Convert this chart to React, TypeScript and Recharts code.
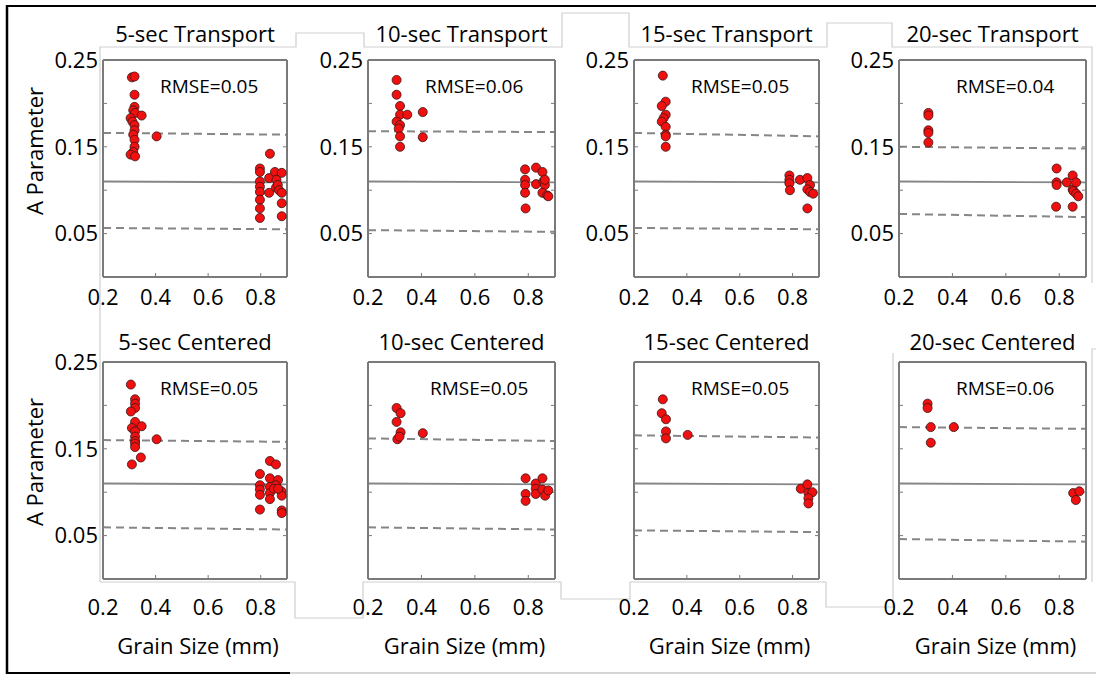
import React from "react";
import { ScatterChart, Scatter, XAxis, YAxis, ReferenceLine } from "recharts";

type Pt = { x: number; y: number };

// axis ticks shared by every panel
const xTicks = [0.2, 0.4, 0.6, 0.8];
const yTicks = [0, 0.05, 0.1, 0.15, 0.2, 0.25];
const yLabelled = [0.05, 0.15, 0.25];

// A parameter vs grain size, transport windows
const transport5: Pt[] = [
  { x: 0.31, y: 0.23 }, { x: 0.32, y: 0.231 }, { x: 0.32, y: 0.21 }, { x: 0.32, y: 0.196 },
  { x: 0.315, y: 0.192 }, { x: 0.322, y: 0.189 }, { x: 0.305, y: 0.183 }, { x: 0.347, y: 0.186 },
  { x: 0.312, y: 0.179 }, { x: 0.32, y: 0.175 }, { x: 0.32, y: 0.169 }, { x: 0.315, y: 0.164 },
  { x: 0.32, y: 0.158 }, { x: 0.32, y: 0.15 }, { x: 0.315, y: 0.144 }, { x: 0.305, y: 0.141 },
  { x: 0.322, y: 0.139 }, { x: 0.404, y: 0.162 },
  { x: 0.797, y: 0.125 }, { x: 0.797, y: 0.121 }, { x: 0.797, y: 0.11 }, { x: 0.797, y: 0.104 },
  { x: 0.797, y: 0.098 }, { x: 0.797, y: 0.089 }, { x: 0.797, y: 0.079 }, { x: 0.797, y: 0.068 },
  { x: 0.835, y: 0.142 }, { x: 0.832, y: 0.114 }, { x: 0.832, y: 0.097 }, { x: 0.854, y: 0.121 },
  { x: 0.86, y: 0.112 }, { x: 0.858, y: 0.103 }, { x: 0.865, y: 0.106 }, { x: 0.88, y: 0.12 },
  { x: 0.87, y: 0.1 }, { x: 0.88, y: 0.097 }, { x: 0.88, y: 0.085 }, { x: 0.88, y: 0.07 },
];

const transport10: Pt[] = [
  { x: 0.307, y: 0.227 }, { x: 0.307, y: 0.21 }, { x: 0.32, y: 0.197 }, { x: 0.32, y: 0.187 },
  { x: 0.347, y: 0.187 }, { x: 0.307, y: 0.179 }, { x: 0.32, y: 0.175 }, { x: 0.315, y: 0.171 },
  { x: 0.32, y: 0.162 }, { x: 0.32, y: 0.15 }, { x: 0.405, y: 0.19 }, { x: 0.405, y: 0.161 },
  { x: 0.788, y: 0.124 }, { x: 0.788, y: 0.112 }, { x: 0.788, y: 0.106 }, { x: 0.788, y: 0.097 },
  { x: 0.79, y: 0.079 }, { x: 0.829, y: 0.126 }, { x: 0.829, y: 0.107 }, { x: 0.853, y: 0.121 },
  { x: 0.856, y: 0.11 }, { x: 0.862, y: 0.106 }, { x: 0.853, y: 0.097 }, { x: 0.871, y: 0.094 },
  { x: 0.875, y: 0.093 }, { x: 0.862, y: 0.112 },
];

const transport15: Pt[] = [
  { x: 0.309, y: 0.232 }, { x: 0.32, y: 0.202 }, { x: 0.305, y: 0.197 }, { x: 0.32, y: 0.187 },
  { x: 0.312, y: 0.183 }, { x: 0.305, y: 0.179 }, { x: 0.32, y: 0.173 }, { x: 0.32, y: 0.164 },
  { x: 0.32, y: 0.162 }, { x: 0.32, y: 0.15 },
  { x: 0.788, y: 0.117 }, { x: 0.788, y: 0.112 }, { x: 0.788, y: 0.108 }, { x: 0.79, y: 0.1 },
  { x: 0.828, y: 0.112 }, { x: 0.856, y: 0.114 }, { x: 0.866, y: 0.106 }, { x: 0.856, y: 0.101 },
  { x: 0.866, y: 0.098 }, { x: 0.878, y: 0.096 }, { x: 0.856, y: 0.079 },
];

const transport20: Pt[] = [
  { x: 0.31, y: 0.189 }, { x: 0.31, y: 0.186 }, { x: 0.31, y: 0.169 }, { x: 0.31, y: 0.166 },
  { x: 0.31, y: 0.155 },
  { x: 0.79, y: 0.125 }, { x: 0.79, y: 0.109 }, { x: 0.79, y: 0.106 }, { x: 0.788, y: 0.081 },
  { x: 0.828, y: 0.109 }, { x: 0.85, y: 0.117 }, { x: 0.85, y: 0.101 }, { x: 0.853, y: 0.099 },
  { x: 0.863, y: 0.109 }, { x: 0.863, y: 0.096 }, { x: 0.871, y: 0.093 }, { x: 0.85, y: 0.081 },
];

// centered windows
const centered5: Pt[] = [
  { x: 0.306, y: 0.224 }, { x: 0.322, y: 0.207 }, { x: 0.322, y: 0.202 }, { x: 0.322, y: 0.197 },
  { x: 0.306, y: 0.193 }, { x: 0.322, y: 0.181 }, { x: 0.347, y: 0.176 }, { x: 0.31, y: 0.174 },
  { x: 0.322, y: 0.17 }, { x: 0.322, y: 0.164 }, { x: 0.322, y: 0.159 }, { x: 0.322, y: 0.156 },
  { x: 0.322, y: 0.152 }, { x: 0.404, y: 0.161 }, { x: 0.344, y: 0.14 }, { x: 0.31, y: 0.132 },
  { x: 0.797, y: 0.121 }, { x: 0.797, y: 0.108 }, { x: 0.797, y: 0.103 }, { x: 0.797, y: 0.097 },
  { x: 0.797, y: 0.08 }, { x: 0.835, y: 0.136 }, { x: 0.835, y: 0.116 }, { x: 0.835, y: 0.106 },
  { x: 0.835, y: 0.099 }, { x: 0.835, y: 0.092 }, { x: 0.858, y: 0.132 }, { x: 0.866, y: 0.114 },
  { x: 0.858, y: 0.108 }, { x: 0.85, y: 0.104 }, { x: 0.879, y: 0.101 }, { x: 0.88, y: 0.096 },
  { x: 0.88, y: 0.079 }, { x: 0.88, y: 0.076 }, { x: 0.866, y: 0.104 },
];

const centered10: Pt[] = [
  { x: 0.307, y: 0.197 }, { x: 0.322, y: 0.191 }, { x: 0.307, y: 0.181 }, { x: 0.322, y: 0.169 },
  { x: 0.31, y: 0.161 }, { x: 0.318, y: 0.164 }, { x: 0.405, y: 0.168 },
  { x: 0.79, y: 0.116 }, { x: 0.79, y: 0.098 }, { x: 0.79, y: 0.09 }, { x: 0.828, y: 0.11 },
  { x: 0.828, y: 0.104 }, { x: 0.828, y: 0.098 }, { x: 0.853, y: 0.116 }, { x: 0.853, y: 0.103 },
  { x: 0.863, y: 0.096 }, { x: 0.875, y: 0.102 },
];

const centered15: Pt[] = [
  { x: 0.309, y: 0.207 }, { x: 0.305, y: 0.191 }, { x: 0.321, y: 0.184 }, { x: 0.321, y: 0.17 },
  { x: 0.321, y: 0.162 }, { x: 0.403, y: 0.166 },
  { x: 0.831, y: 0.104 }, { x: 0.856, y: 0.109 }, { x: 0.86, y: 0.099 }, { x: 0.875, y: 0.1 },
  { x: 0.86, y: 0.093 }, { x: 0.86, y: 0.087 },
];

const centered20: Pt[] = [
  { x: 0.307, y: 0.202 }, { x: 0.307, y: 0.197 }, { x: 0.319, y: 0.175 }, { x: 0.319, y: 0.157 },
  { x: 0.405, y: 0.175 },
  { x: 0.852, y: 0.099 }, { x: 0.875, y: 0.101 }, { x: 0.862, y: 0.091 },
];

const panelTitles = [
  "5-sec Transport", "10-sec Transport", "15-sec Transport", "20-sec Transport",
  "5-sec Centered", "10-sec Centered", "15-sec Centered", "20-sec Centered",
];
const panelData = [
  transport5, transport10, transport15, transport20,
  centered5, centered10, centered15, centered20,
];
const rmseValues = [0.05, 0.06, 0.05, 0.04, 0.05, 0.05, 0.05, 0.06];

// fitted line and prediction band, [value at 0.2, value at 0.9]
const fitLine = [0.11, 0.109];
const upperBand = [
  [0.166, 0.164], [0.168, 0.167], [0.166, 0.162], [0.15, 0.148],
  [0.16, 0.158], [0.162, 0.159], [0.1655, 0.163], [0.175, 0.173],
];
const lowerBand = [
  [0.0565, 0.055], [0.054, 0.052], [0.0565, 0.055], [0.0726, 0.069],
  [0.0595, 0.057], [0.0595, 0.057], [0.056, 0.054], [0.046, 0.043],
];

// layout
const PLOT_H = 217;
const colLeft = [103, 368, 634, 899];
const colWidth = [184, 187, 185, 187];
const rowTop = [60, 362];
const Y_AXIS_W = 60;
const X_AXIS_H = 45;

const BOX = "#7a7a7a";
const REF = "#868686";
const INK = "#000";
const FONT = "'Open Sans', sans-serif";

interface PanelProps {
  index: number;
}

const Panel: React.FC<PanelProps> = ({ index }) => {
  const row = Math.floor(index / 4);
  const col = index % 4;
  const left = colLeft[col];
  const width = colWidth[col];
  const top = rowTop[row];
  const showYLabels = row === 0 || col === 0;
  const [uA, uB] = upperBand[index];
  const [lA, lB] = lowerBand[index];
  const tickStyle = { fontSize: 22, fill: INK, fontFamily: FONT };

  return (
    <>
      <div
        style={{
          position: "absolute",
          left: left,
          width: width,
          top: top - (row === 0 ? 42 : 36),
          textAlign: "center",
          fontSize: 22,
          lineHeight: "30px",
          color: INK,
          whiteSpace: "nowrap",
        }}
      >
        {panelTitles[index]}
      </div>
      <div style={{ position: "absolute", left: left - Y_AXIS_W, top: top - 16 }}>
        <ScatterChart
          width={Y_AXIS_W + width + 11}
          height={16 + PLOT_H + X_AXIS_H}
          margin={{ top: 15, right: 10, left: 0, bottom: 0 }}
        >
          <XAxis
            type="number"
            dataKey="x"
            domain={[0.2, 0.9]}
            ticks={xTicks}
            interval={0}
            allowDataOverflow
            height={X_AXIS_H}
            tickSize={-4}
            tickMargin={row === 0 ? 16 : 24}
            tickFormatter={(v: number) => v.toFixed(1)}
            tick={tickStyle}
            axisLine={{ stroke: BOX, strokeWidth: 2 }}
            tickLine={{ stroke: BOX }}
          />
          <XAxis
            xAxisId="top"
            orientation="top"
            type="number"
            domain={[0.2, 0.9]}
            ticks={xTicks}
            interval={0}
            allowDataOverflow
            height={1}
            tickSize={-4}
            tickFormatter={() => ""}
            axisLine={{ stroke: BOX, strokeWidth: 2 }}
            tickLine={{ stroke: BOX }}
          />
          <YAxis
            type="number"
            dataKey="y"
            domain={[0, 0.25]}
            ticks={yTicks}
            interval={0}
            allowDataOverflow
            width={Y_AXIS_W}
            tickSize={-4}
            tickMargin={9}
            tickFormatter={(v: number) =>
              showYLabels && yLabelled.includes(v) ? v.toFixed(2) : ""
            }
            tick={tickStyle}
            axisLine={{ stroke: BOX, strokeWidth: 2 }}
            tickLine={{ stroke: BOX }}
          />
          <YAxis
            yAxisId="right"
            orientation="right"
            type="number"
            domain={[0, 0.25]}
            ticks={yTicks}
            interval={0}
            allowDataOverflow
            width={1}
            tickSize={-4}
            tickFormatter={() => ""}
            axisLine={{ stroke: BOX, strokeWidth: 2 }}
            tickLine={{ stroke: BOX }}
          />
          <ReferenceLine
            segment={[{ x: 0.2, y: fitLine[0] }, { x: 0.9, y: fitLine[1] }]}
            stroke={REF}
            strokeWidth={1.8}
          />
          <ReferenceLine
            segment={[{ x: 0.2, y: uA }, { x: 0.9, y: uB }]}
            stroke={REF}
            strokeWidth={2}
            strokeDasharray="8 5"
          />
          <ReferenceLine
            segment={[{ x: 0.2, y: lA }, { x: 0.9, y: lB }]}
            stroke={REF}
            strokeWidth={2}
            strokeDasharray="8 5"
          />
          <Scatter
            data={panelData[index]}
            fill="#f01010"
            stroke="#3a1414"
            strokeWidth={0.8}
            isAnimationActive={false}
          />
        </ScatterChart>
      </div>
      <div
        style={{
          position: "absolute",
          left: left + (col === 1 && row === 1 ? 62 : 57),
          top: top + 14,
          fontSize: 19,
          lineHeight: "24px",
          color: INK,
          whiteSpace: "nowrap",
        }}
      >
        RMSE={rmseValues[index].toFixed(2)}
      </div>
      {row === 1 && (
        <div
          style={{
            position: "absolute",
            left: left + 3,
            width: width,
            top: 630,
            textAlign: "center",
            fontSize: 22,
            lineHeight: "30px",
            color: INK,
            whiteSpace: "nowrap",
          }}
        >
          Grain Size (mm)
        </div>
      )}
      {col === 0 && (
        <div
          style={{
            position: "absolute",
            left: 34 - 80,
            width: 160,
            top: (row === 0 ? 151 : 462) - 15,
            textAlign: "center",
            fontSize: 22,
            lineHeight: "30px",
            color: INK,
            transform: "rotate(-90deg)",
            whiteSpace: "nowrap",
          }}
        >
          A Parameter
        </div>
      )}
    </>
  );
};

// faint outlines left by the pasted panel images
const seamTop =
  "100,582 100,47 296,47 296,33 364,33 364,47 562,47 562,13 629,13 629,47 827,47 827,23 892,23 892,47 1092,47 1092,283";
const seamBottom =
  "100,582 295,582 295,618 363,618 363,582 561,582 561,599 630,599 630,582 826,582 826,607 893,607 893,353";

const App: React.FC = () => {
  return (
    <div
      style={{
        position: "absolute",
        left: 0,
        top: 0,
        width: 1096,
        height: 675,
        background: "#fff",
        fontFamily: FONT,
        overflow: "hidden",
      }}
    >
      <svg width={1096} height={675} style={{ position: "absolute", left: 0, top: 0 }}>
        <polyline points={seamTop} fill="none" stroke="#cfcfcf" strokeWidth={1.2} />
        <polyline points={seamBottom} fill="none" stroke="#cfcfcf" strokeWidth={1.2} />
        <polyline points="1096,349 1092,349 1092,582" fill="none" stroke="#cfcfcf" strokeWidth={1.2} />
        <line x1={290} y1={673} x2={1096} y2={673} stroke="#c8c8c8" strokeWidth={1.5} />
        <line x1={7} y1={6} x2={1096} y2={6} stroke="#000" strokeWidth={2} />
        <line x1={7} y1={5} x2={7} y2={674} stroke="#000" strokeWidth={2.5} />
        <line x1={6} y1={673} x2={290} y2={673} stroke="#000" strokeWidth={2} />
      </svg>
      {panelTitles.map((_, i) => (
        <Panel key={i} index={i} />
      ))}
    </div>
  );
};

export default App;
